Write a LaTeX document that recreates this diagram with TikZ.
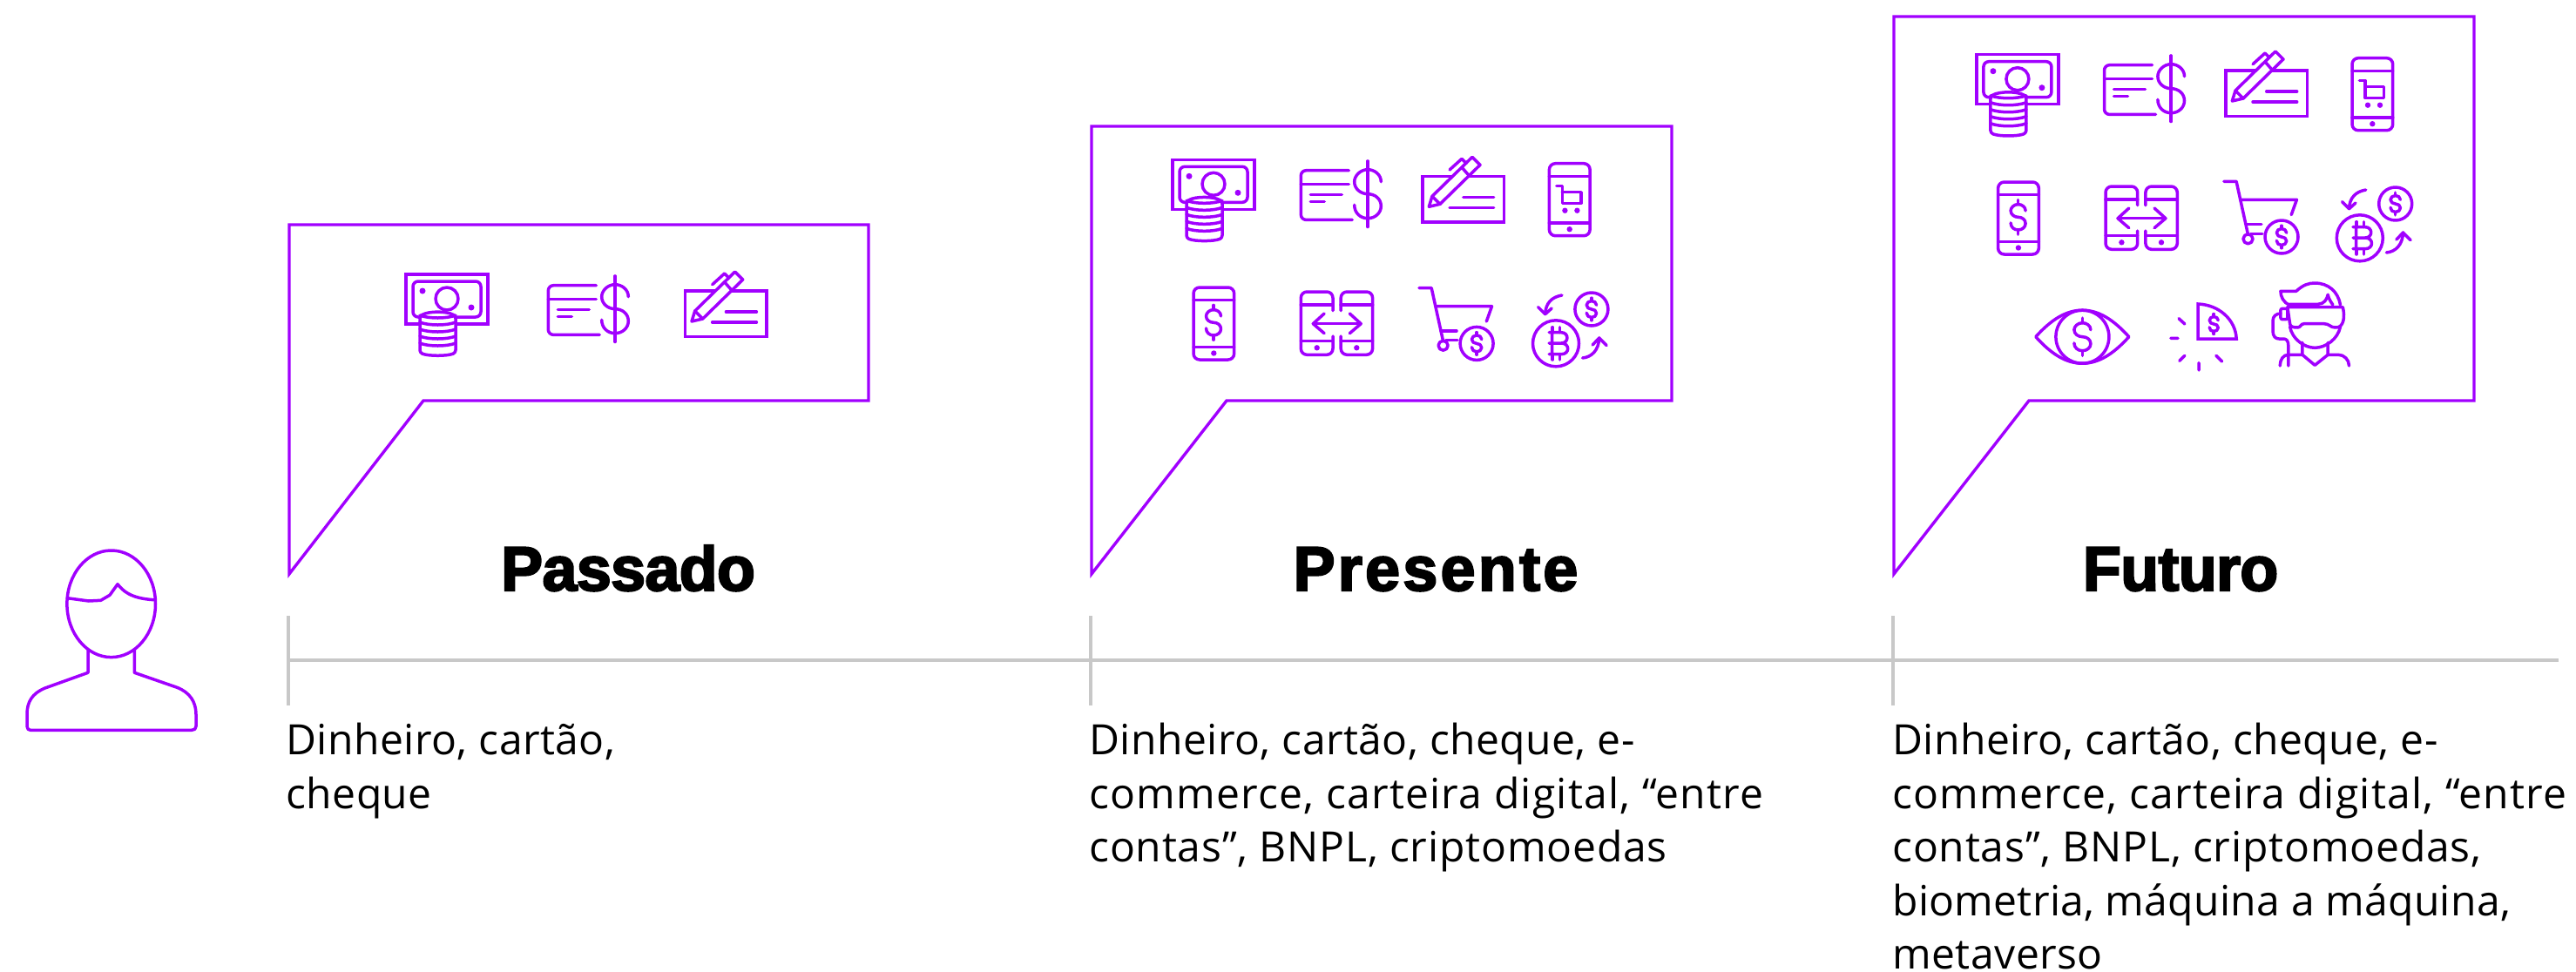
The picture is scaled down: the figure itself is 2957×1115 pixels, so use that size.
\documentclass[tikz,border=0pt]{standalone}
\usepackage{fontspec}
\usepackage{tikz}
\newfontfamily\bodyfont[LetterSpace=1]{Open Sans}
\newfontfamily\titlefont[FakeBold=3,LetterSpace=-1]{Liberation Sans Bold}
\newfontfamily\widetitlefont[FakeBold=3,LetterSpace=4.5]{Liberation Sans Bold}
\definecolor{accent}{HTML}{A100FF}
\definecolor{rule}{HTML}{C8C8C8}

\tikzset{
  iconline/.style={draw=accent, line width=1.75pt, line cap=round, line join=round},
  pics/dollarsign/.style={code={
    \draw[iconline] (1,-.5) .. controls (1,-.8) and (.5,-1) .. (0,-1) .. controls (-.55,-1) and (-1,-.75) .. (-1,-.5) .. controls (-1,-.2) and (-.5,0) .. (0,0) .. controls (.55,0) and (1,.2) .. (1,.5) .. controls (1,.78) and (.55,1) .. (0,1) .. controls (-.55,1) and (-1,.78) .. (-1,.45);
    \draw[iconline] (0,-1.35) -- (0,-1) (0,1) -- (0,1.35);
  }},
  pics/moneyicon/.style={code={
    \draw[iconline, line cap=butt, line join=miter] (0,0) rectangle (94,57);
    \draw[iconline, rounded corners=3pt] (8,8) rectangle (86,49);
    \draw[iconline] (47,28) circle (13);
    \fill[accent] (19,19) circle (3.5) (75,38) circle (3.5);
    \draw[iconline, fill=white, rounded corners=1.5pt] (16,48) .. controls (26,42) and (47,42) .. (57,48) -- (57,90) .. controls (47,94) and (26,94) .. (16,90) -- cycle;
    \foreach \ypos in {50,58,66,74,82}
      \draw[iconline] (16,\ypos-3) .. controls (26,\ypos+1) and (47,\ypos+1) .. (57,\ypos-3);
  }},
  pics/cardicon/.style={code={
    \draw[iconline, rounded corners=3pt] (55,0) -- (0,0) -- (0,56.7) -- (59,56.7);
    \draw[iconline] (0,15.7) -- (55,15.7) (11,28) -- (47,28) (11,36) -- (27,36);
    \pic[xscale=15.3,yscale=28] at (76.7,27) {dollarsign};
    \draw[iconline] (76.7,-10) -- (76.7,62);
  }},
  pics/chequeicon/.style={code={
    \draw[iconline, line join=miter] (0,0) rectangle (93.3,52.7);
    \draw[iconline] (46.7,24) -- (81.7,24) (31,36) -- (81.7,36);
    \draw[iconline, fill=white] (7.3,35) -- (11,23) -- (57,-22) -- (66,-13) -- (20,32) -- cycle;
    \draw[iconline] (11,23) -- (20,32) (46,-9) -- (53,-1);
    \draw[iconline] (31,-7.3) -- (45,-20) -- (50,-15);
  }},
  pics/phonebody/.style={code={
    \draw[iconline, rounded corners=3.5pt] (0,0) rectangle (46.7,83);
    \draw[iconline] (0,14.7) -- (46.7,14.7) (0,68.3) -- (46.7,68.3);
    \fill[accent] (23.3,75.5) circle (3.2);
  }},
  pics/phonecart/.style={code={
    \pic at (0,0) {phonebody};
    \draw[iconline] (8.4,25.7) -- (15,25.7) -- (15,45.7) -- (36.4,45.7) -- (36.4,33) -- (15,33);
    \fill[accent] (18,54) circle (3.2) (32,54) circle (3.2);
  }},
  pics/phonedollar/.style={code={
    \pic at (0,0) {phonebody};
    \pic[xscale=8.5,yscale=14.7] at (23,40.3) {dollarsign};
  }},
  pics/phoneswap/.style={code={
    \draw[iconline, rounded corners=3.5pt] (36.7,21.7) -- (36.7,0) -- (0,0) -- (0,72.3) -- (36.7,72.3) -- (36.7,51);
    \draw[iconline, rounded corners=3.5pt] (45.9,21.7) -- (45.9,0) -- (82.3,0) -- (82.3,72.3) -- (45.9,72.3) -- (45.9,51);
    \draw[iconline] (0,15) -- (36.7,15) (45.9,15) -- (82.3,15) (0,56.7) -- (36.7,56.7) (45.9,56.7) -- (82.3,56.7);
    \fill[accent] (18.4,64.3) circle (3.2) (64,64.3) circle (3.2);
    \draw[iconline] (14,36.7) -- (68.9,36.7);
    \draw[iconline] (26.8,25) -- (14,36.7) -- (26.8,47.7) (56,25) -- (68.9,36.7) -- (56,47.7);
  }},
  pics/cartcoin/.style={code={
    \draw[iconline] (0,0) -- (14.2,0) -- (27.6,61);
    \draw[iconline] (20,21) -- (83.5,21) -- (77.3,38.3);
    \draw[iconline] (25,49.3) -- (43,49.3) (30.6,60) -- (44,60);
    \draw[iconline] (27.6,66) circle (5.5);
    \draw[iconline] (66.1,63.7) circle (19);
    \pic[xscale=5.7,yscale=9.5] at (66.1,63.7) {dollarsign};
  }},
  pics/bitcoinswap/.style={code={
    \draw[iconline] (26.8,58.3) circle (26.5);
    \draw[iconline] (67.7,19) circle (19);
    \pic[xscale=5.7,yscale=9.5] at (67.7,19) {dollarsign};
    \draw[iconline] (19,45.7) -- (33,45.7) .. controls (42,45.7) and (42,58) .. (33,58) -- (19,58) (33,58) .. controls (43,58) and (43,70.7) .. (33,70.7) -- (19,70.7) (22.5,45.7) -- (22.5,70.7);
    \draw[iconline] (23,39.7) -- (23,45.7) (31.5,39.7) -- (31.5,45.7) (23,70.7) -- (23,77) (31.5,70.7) -- (31.5,77);
    \draw[iconline] (33.7,3) .. controls (22,5) and (15,12) .. (14.5,24.7);
    \draw[iconline] (6.5,16.7) -- (14.5,24.7) -- (22,18);
    \draw[iconline] (57.4,75) .. controls (68,74) and (76,66) .. (76.5,52);
    \draw[iconline] (68.9,60) -- (76.5,52) -- (85,60.7);
  }},
  pics/eyeicon/.style={code={
    \draw[iconline] (0,0) .. controls (18,-20) and (35,-30.5) .. (53.6,-30.5) .. controls (72,-30.5) and (89,-20) .. (107,0) .. controls (89,20) and (72,30.5) .. (53.6,30.5) .. controls (35,30.5) and (18,20) .. (0,0) -- cycle;
    \draw[iconline] (53.6,0) circle (30.5);
    \pic[xscale=9.5,yscale=16] at (53.6,0) {dollarsign};
  }},
  pics/pieicon/.style={code={
    \draw[iconline, line join=miter] (0,0) -- (0,-40) .. controls (24,-39) and (43,-22) .. (44,0) -- cycle;
    \pic[xscale=5,yscale=8.5] at (18,-17) {dollarsign};
    \draw[iconline] (-22.2,-23.3) -- (-15.3,-17) (-31.4,-.7) -- (-23.2,-.7) (-21.4,25.3) -- (-15.3,19.3) (.8,27.7) -- (.8,36) (20.7,19.3) -- (27.5,26);
  }},
  pics/vricon/.style={code={
    \draw[iconline] (10.7,25) .. controls (3,23) and (0,15) .. (0,9.3) -- (17.9,9.3) .. controls (26,2) and (32,0) .. (39.3,0) .. controls (55,0) and (66,10) .. (68.6,25);
    \draw[iconline] (10.7,24.3) -- (42.9,24.3) .. controls (50,24) and (53,19) .. (54.3,13.3) .. controls (55,18) and (58,22) .. (60,25);
    \draw[iconline] (7.9,27.7) -- (71.4,27.7) .. controls (74,38) and (73,52) .. (62.5,51) .. controls (57,51) and (56,46.7) .. (50,46.7) -- (26.8,46.7) .. controls (23,46.7) and (23,51) .. (19.6,51) .. controls (14,51) and (11,50) .. (10.7,46.7) -- cycle;
    \draw[iconline, rounded corners=1pt] (0,29.3) rectangle (7.9,41.7);
    \draw[iconline] (0,35) .. controls (-5,35) and (-8.9,38) .. (-8.9,43.3) -- (-8.9,55) .. controls (-8.9,61) and (-6,64) .. (-1.8,64) -- (3.6,64) .. controls (7,64) and (8.9,67) .. (8.9,71.7) -- (8.9,95);
    \draw[iconline] (10.7,50) .. controls (13,64) and (27,74.3) .. (39.3,74.3) .. controls (52,74.3) and (66,64) .. (68.6,50);
    \draw[iconline] (25,68.3) -- (25,82.3) -- (39.3,94.3) -- (54.3,82.3) -- (54.3,68.3);
    \draw[iconline] (-.7,95) .. controls (-.7,88) and (3,82.3) .. (8.9,82.3) -- (25,82.3);
    \draw[iconline] (54.3,82.3) -- (66.2,82.3) .. controls (73,82.3) and (78.6,88) .. (78.6,95);
  }},
  pics/usericon/.style={code={
    \draw[iconline] (127.7,693.3) ellipse (50.8 and 61.3);
    \draw[iconline] (77.3,686.7) -- (101.7,690) -- (115.7,689.3) -- (126,683.3) -- (135,670.7) .. controls (141,678) and (149,687) .. (176.7,688.7);
    \draw[iconline] (101,746.7) -- (101,772.3) -- (51.7,790) .. controls (37,796) and (31,806) .. (31,820) -- (31,834) .. controls (31,837) and (33,838.3) .. (35,838.3) -- (220,838.3) .. controls (223,838.3) and (225,837) .. (225,834) -- (225,820) .. controls (225,806) and (218,795) .. (203.3,789.3) -- (154.3,772.3) -- (154.3,745.7);
  }}
}

\begin{document}
\begin{tikzpicture}[
    x=.5pt, y=-.5pt,
    bubble/.style={draw=accent, line width=1.7pt},
    rulerline/.style={draw=rule, line width=1.6pt},
    titlelabel/.style={anchor=base, inner sep=0pt, text=black, font=\titlefont\fontsize{36pt}{36pt}\selectfont},
    widelabel/.style={titlelabel, font=\widetitlefont\fontsize{36pt}{36pt}\selectfont},
    bodylabel/.style={anchor=north west, inner sep=0pt, align=left, text=black, font=\bodyfont\fontsize{24pt}{30.75pt}\selectfont}
]
\useasboundingbox (0,0) rectangle (2957,1115);

% Speech bubbles
\draw[bubble] (332,659) -- (332,258) -- (997,258) -- (997,460) -- (486,460) -- cycle;
\draw[bubble] (1253,659) -- (1253,145) -- (1919,145) -- (1919,460) -- (1408,460) -- cycle;
\draw[bubble] (2174,659) -- (2174,19) -- (2840,19) -- (2840,460) -- (2329,460) -- cycle;

% Titles
\node[titlelabel] (past) at (721,678) {Passado};
\node[widelabel] (present) at (1648,678) {Presente};
\node[titlelabel] (future) at (2503,678) {Futuro};

% Timeline
\coordinate (start) at (331,758);
\coordinate (end) at (2937,758);
\draw[rulerline] (start) -- (end);
\draw[rulerline] (331,707) -- (start) -- (331,810);
\draw[rulerline] (1252,707) -- (1252,810);
\draw[rulerline] (2173,707) -- (2173,810);

% Descriptions
\node[bodylabel] (pastText) at (328,830) {Dinheiro, cartão,\\cheque};
\node[bodylabel] (presentText) at (1250,830) {Dinheiro, cartão, cheque, e-\\{\addfontfeature{LetterSpace=2.6}commerce, carteira digital, “entre}\\{\addfontfeature{LetterSpace=1.7}contas”, BNPL, criptomoedas}};
\node[bodylabel] (futureText) at (2172,830) {Dinheiro, cartão, cheque, e-\\{\addfontfeature{LetterSpace=2.6}commerce, carteira digital, “entre}\\{\addfontfeature{LetterSpace=1.7}contas”, BNPL, criptomoedas,}\\{\addfontfeature{LetterSpace=.6}biometria, máquina a máquina,}\\metaverso};

% Icons
\pic at (0,0) {usericon};

\pic at (466,315) {moneyicon};
\pic at (629.3,327.7) {cardicon};
\pic at (786.7,334) {chequeicon};

\pic at (1346,183.3) {moneyicon};
\pic at (1493.3,195.7) {cardicon};
\pic at (1633,202.3) {chequeicon};
\pic at (1778.4,187.7) {phonecart};
\pic at (1370,330) {phonedollar};
\pic at (1493.3,335) {phoneswap};
\pic at (1629,330.7) {cartcoin};
\pic at (1759.2,336) {bitcoinswap};

\pic at (2268.9,62.7) {moneyicon};
\pic at (2415.5,74.7) {cardicon};
\pic at (2555,81) {chequeicon};
\pic at (2700,66.7) {phonecart};
\pic at (2293.6,209) {phonedollar};
\pic at (2417,214) {phoneswap};
\pic at (2552.9,208.3) {cartcoin};
\pic at (2682,215) {bitcoinswap};
\pic at (2336.8,386.7) {eyeicon};
\pic at (2523.2,389) {pieicon};
\pic at (2617.9,325) {vricon};

\end{tikzpicture}
\end{document}
